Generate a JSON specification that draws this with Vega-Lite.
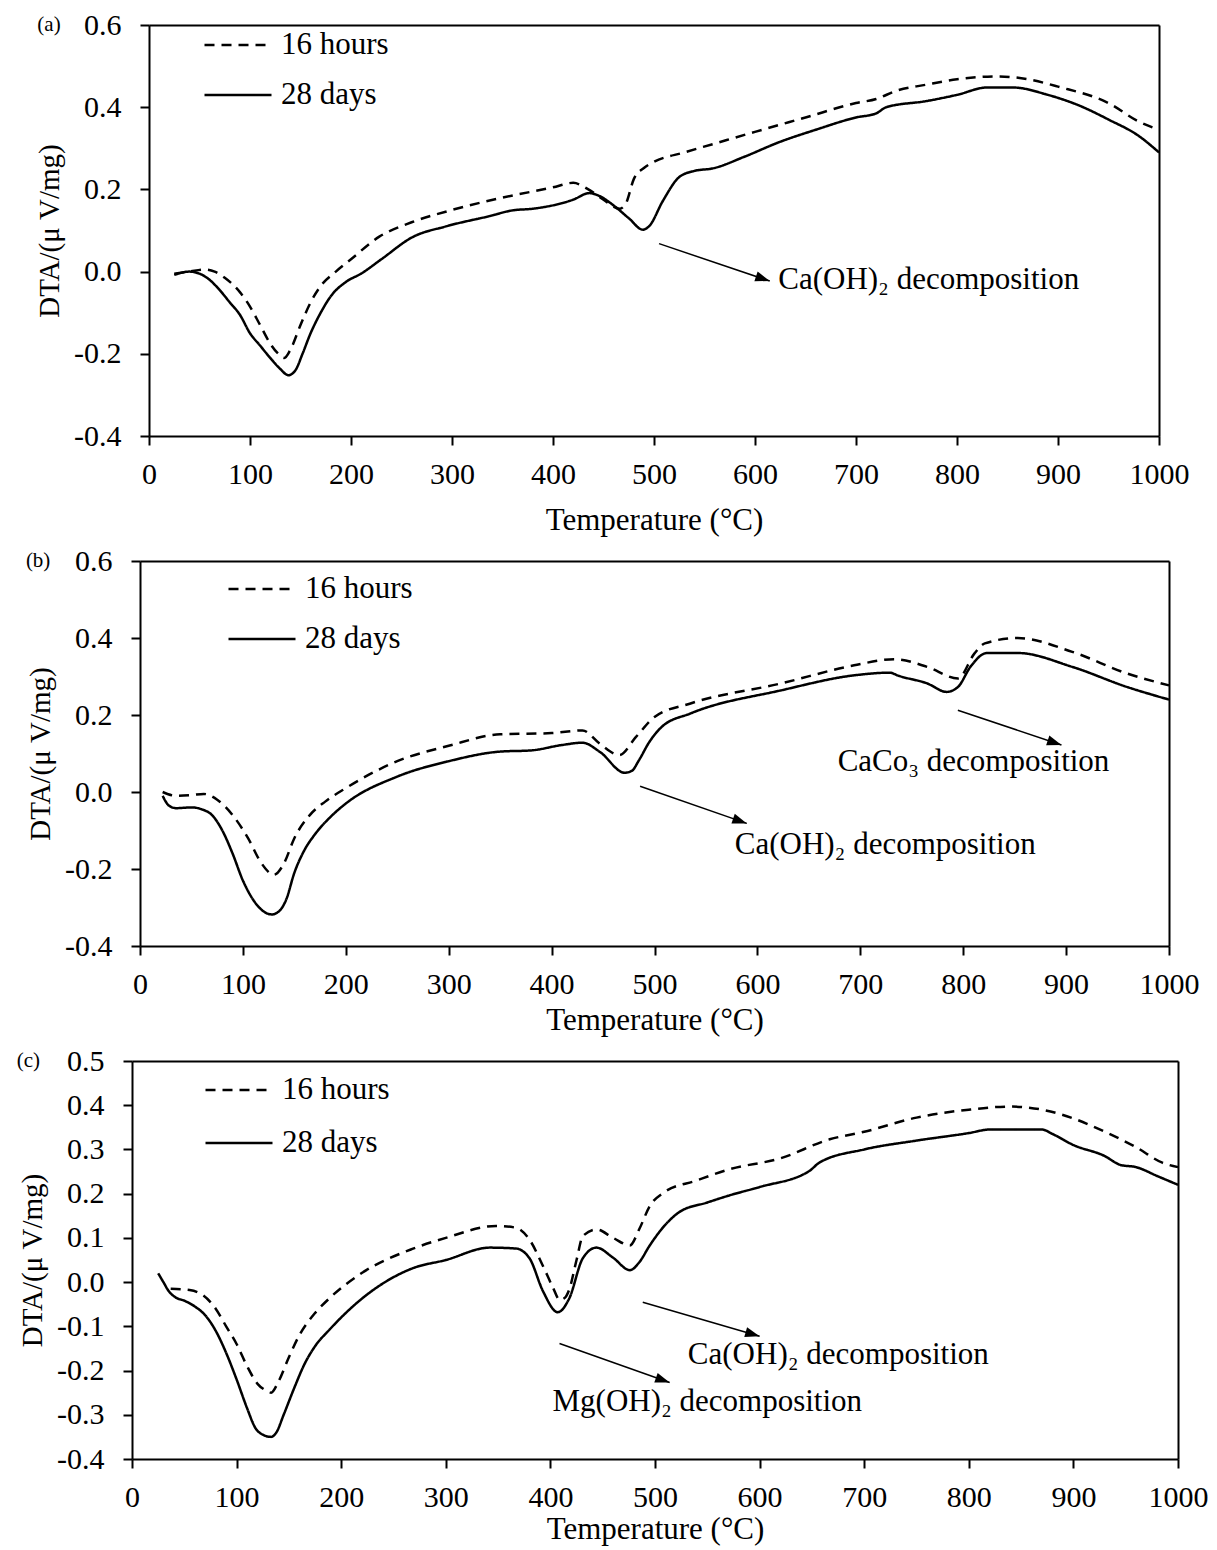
{
  "$schema": "https://vega.github.io/schema/vega-lite/v6.json",
  "background": "white",
  "padding": {"left": 16, "top": 10, "right": 10, "bottom": 5},
  "spacing": 11,
  "config": {
    "font": "Liberation Serif",
    "view": {"stroke": null},
    "axis": {"labelFont": "Liberation Serif", "titleFont": "Liberation Serif", "labelFontSize": 30, "titleFontSize": 31, "titleFontWeight": "normal", "labelColor": "black", "titleColor": "black", "domainColor": "black", "domainWidth": 2, "tickColor": "black", "tickWidth": 2, "tickSize": 9, "gridColor": "black", "gridWidth": 2, "labelFlush": false, "labelOverlap": false, "labelBound": false},
    "legend": {"title": null, "orient": "none", "symbolType": "stroke", "symbolSize": 4489, "symbolStrokeWidth": 2.5, "symbolStrokeColor": "black", "labelFont": "Liberation Serif", "labelFontSize": 31, "labelColor": "black", "labelOffset": 8, "padding": 0},
    "text": {"font": "Liberation Serif", "fontSize": 31, "color": "black"}
  },
  "datasets": {
    "a": [
      {"s":"16 hours","T":25,"v":-0.005},{"s":"16 hours","T":40,"v":0.0},{"s":"16 hours","T":55,"v":0.005},{"s":"16 hours","T":65,"v":0.0},{"s":"16 hours","T":75,"v":-0.015},{"s":"16 hours","T":90,"v":-0.05},{"s":"16 hours","T":100,"v":-0.085},{"s":"16 hours","T":110,"v":-0.13},{"s":"16 hours","T":120,"v":-0.175},{"s":"16 hours","T":128,"v":-0.2},{"s":"16 hours","T":134,"v":-0.21},{"s":"16 hours","T":140,"v":-0.19},{"s":"16 hours","T":150,"v":-0.13},{"s":"16 hours","T":160,"v":-0.075},{"s":"16 hours","T":170,"v":-0.035},{"s":"16 hours","T":185,"v":0.0},{"s":"16 hours","T":200,"v":0.03},{"s":"16 hours","T":228,"v":0.085},{"s":"16 hours","T":260,"v":0.12},{"s":"16 hours","T":300,"v":0.15},{"s":"16 hours","T":350,"v":0.18},{"s":"16 hours","T":400,"v":0.205},{"s":"16 hours","T":420,"v":0.216},{"s":"16 hours","T":435,"v":0.2},{"s":"16 hours","T":450,"v":0.175},{"s":"16 hours","T":466,"v":0.153},{"s":"16 hours","T":472,"v":0.165},{"s":"16 hours","T":480,"v":0.225},{"s":"16 hours","T":490,"v":0.252},{"s":"16 hours","T":500,"v":0.267},{"s":"16 hours","T":530,"v":0.29},{"s":"16 hours","T":558,"v":0.31},{"s":"16 hours","T":600,"v":0.34},{"s":"16 hours","T":650,"v":0.375},{"s":"16 hours","T":700,"v":0.41},{"s":"16 hours","T":720,"v":0.42},{"s":"16 hours","T":740,"v":0.44},{"s":"16 hours","T":770,"v":0.455},{"s":"16 hours","T":800,"v":0.468},{"s":"16 hours","T":840,"v":0.475},{"s":"16 hours","T":870,"v":0.468},{"s":"16 hours","T":900,"v":0.45},{"s":"16 hours","T":950,"v":0.41},{"s":"16 hours","T":980,"v":0.365},{"s":"16 hours","T":1000,"v":0.345},
      {"s":"28 days","T":25,"v":-0.008},{"s":"28 days","T":40,"v":0.0},{"s":"28 days","T":50,"v":-0.005},{"s":"28 days","T":60,"v":-0.02},{"s":"28 days","T":70,"v":-0.045},{"s":"28 days","T":80,"v":-0.075},{"s":"28 days","T":90,"v":-0.105},{"s":"28 days","T":100,"v":-0.15},{"s":"28 days","T":110,"v":-0.18},{"s":"28 days","T":120,"v":-0.21},{"s":"28 days","T":130,"v":-0.237},{"s":"28 days","T":138,"v":-0.252},{"s":"28 days","T":145,"v":-0.24},{"s":"28 days","T":152,"v":-0.2},{"s":"28 days","T":160,"v":-0.15},{"s":"28 days","T":170,"v":-0.1},{"s":"28 days","T":180,"v":-0.06},{"s":"28 days","T":195,"v":-0.025},{"s":"28 days","T":210,"v":-0.005},{"s":"28 days","T":230,"v":0.03},{"s":"28 days","T":261,"v":0.084},{"s":"28 days","T":294,"v":0.11},{"s":"28 days","T":337,"v":0.135},{"s":"28 days","T":360,"v":0.149},{"s":"28 days","T":380,"v":0.153},{"s":"28 days","T":420,"v":0.175},{"s":"28 days","T":436,"v":0.191},{"s":"28 days","T":445,"v":0.185},{"s":"28 days","T":460,"v":0.161},{"s":"28 days","T":475,"v":0.13},{"s":"28 days","T":489,"v":0.102},{"s":"28 days","T":495,"v":0.11},{"s":"28 days","T":509,"v":0.173},{"s":"28 days","T":525,"v":0.23},{"s":"28 days","T":540,"v":0.245},{"s":"28 days","T":558,"v":0.251},{"s":"28 days","T":590,"v":0.28},{"s":"28 days","T":624,"v":0.315},{"s":"28 days","T":660,"v":0.345},{"s":"28 days","T":700,"v":0.375},{"s":"28 days","T":720,"v":0.385},{"s":"28 days","T":730,"v":0.4},{"s":"28 days","T":770,"v":0.415},{"s":"28 days","T":800,"v":0.43},{"s":"28 days","T":830,"v":0.448},{"s":"28 days","T":855,"v":0.448},{"s":"28 days","T":890,"v":0.43},{"s":"28 days","T":920,"v":0.405},{"s":"28 days","T":950,"v":0.37},{"s":"28 days","T":980,"v":0.33},{"s":"28 days","T":1000,"v":0.29}
    ],
    "b": [
      {"s":"16 hours","T":22,"v":0.0},{"s":"16 hours","T":35,"v":-0.01},{"s":"16 hours","T":50,"v":-0.008},{"s":"16 hours","T":62,"v":-0.005},{"s":"16 hours","T":75,"v":-0.02},{"s":"16 hours","T":90,"v":-0.06},{"s":"16 hours","T":105,"v":-0.12},{"s":"16 hours","T":118,"v":-0.185},{"s":"16 hours","T":130,"v":-0.215},{"s":"16 hours","T":140,"v":-0.185},{"s":"16 hours","T":150,"v":-0.12},{"s":"16 hours","T":165,"v":-0.06},{"s":"16 hours","T":180,"v":-0.025},{"s":"16 hours","T":200,"v":0.01},{"s":"16 hours","T":250,"v":0.08},{"s":"16 hours","T":300,"v":0.12},{"s":"16 hours","T":350,"v":0.15},{"s":"16 hours","T":400,"v":0.153},{"s":"16 hours","T":430,"v":0.16},{"s":"16 hours","T":447,"v":0.125},{"s":"16 hours","T":466,"v":0.096},{"s":"16 hours","T":482,"v":0.143},{"s":"16 hours","T":500,"v":0.195},{"s":"16 hours","T":535,"v":0.23},{"s":"16 hours","T":623,"v":0.282},{"s":"16 hours","T":694,"v":0.329},{"s":"16 hours","T":733,"v":0.345},{"s":"16 hours","T":765,"v":0.325},{"s":"16 hours","T":795,"v":0.295},{"s":"16 hours","T":811,"v":0.36},{"s":"16 hours","T":821,"v":0.386},{"s":"16 hours","T":853,"v":0.4},{"s":"16 hours","T":906,"v":0.364},{"s":"16 hours","T":959,"v":0.308},{"s":"16 hours","T":1000,"v":0.277},
      {"s":"28 days","T":22,"v":-0.01},{"s":"28 days","T":28,"v":-0.035},{"s":"28 days","T":35,"v":-0.042},{"s":"28 days","T":50,"v":-0.04},{"s":"28 days","T":60,"v":-0.045},{"s":"28 days","T":70,"v":-0.06},{"s":"28 days","T":80,"v":-0.1},{"s":"28 days","T":90,"v":-0.16},{"s":"28 days","T":100,"v":-0.23},{"s":"28 days","T":110,"v":-0.28},{"s":"28 days","T":120,"v":-0.31},{"s":"28 days","T":128,"v":-0.318},{"s":"28 days","T":135,"v":-0.31},{"s":"28 days","T":142,"v":-0.28},{"s":"28 days","T":150,"v":-0.21},{"s":"28 days","T":160,"v":-0.15},{"s":"28 days","T":170,"v":-0.11},{"s":"28 days","T":185,"v":-0.065},{"s":"28 days","T":200,"v":-0.03},{"s":"28 days","T":250,"v":0.04},{"s":"28 days","T":300,"v":0.08},{"s":"28 days","T":350,"v":0.105},{"s":"28 days","T":380,"v":0.108},{"s":"28 days","T":410,"v":0.122},{"s":"28 days","T":430,"v":0.128},{"s":"28 days","T":447,"v":0.104},{"s":"28 days","T":471,"v":0.05},{"s":"28 days","T":478,"v":0.055},{"s":"28 days","T":485,"v":0.083},{"s":"28 days","T":495,"v":0.13},{"s":"28 days","T":507,"v":0.169},{"s":"28 days","T":535,"v":0.204},{"s":"28 days","T":623,"v":0.264},{"s":"28 days","T":694,"v":0.303},{"s":"28 days","T":729,"v":0.31},{"s":"28 days","T":736,"v":0.303},{"s":"28 days","T":765,"v":0.282},{"s":"28 days","T":784,"v":0.26},{"s":"28 days","T":795,"v":0.273},{"s":"28 days","T":807,"v":0.325},{"s":"28 days","T":823,"v":0.361},{"s":"28 days","T":853,"v":0.361},{"s":"28 days","T":906,"v":0.325},{"s":"28 days","T":959,"v":0.273},{"s":"28 days","T":1000,"v":0.24}
    ],
    "c": [
      {"s":"16 hours","T":37,"v":-0.015},{"s":"16 hours","T":55,"v":-0.018},{"s":"16 hours","T":68,"v":-0.03},{"s":"16 hours","T":80,"v":-0.06},{"s":"16 hours","T":90,"v":-0.1},{"s":"16 hours","T":100,"v":-0.14},{"s":"16 hours","T":110,"v":-0.19},{"s":"16 hours","T":120,"v":-0.23},{"s":"16 hours","T":128,"v":-0.245},{"s":"16 hours","T":133,"v":-0.25},{"s":"16 hours","T":140,"v":-0.225},{"s":"16 hours","T":150,"v":-0.17},{"s":"16 hours","T":160,"v":-0.12},{"s":"16 hours","T":175,"v":-0.07},{"s":"16 hours","T":189,"v":-0.036},{"s":"16 hours","T":220,"v":0.021},{"s":"16 hours","T":268,"v":0.075},{"s":"16 hours","T":300,"v":0.1},{"s":"16 hours","T":348,"v":0.127},{"s":"16 hours","T":367,"v":0.123},{"s":"16 hours","T":380,"v":0.096},{"s":"16 hours","T":393,"v":0.036},{"s":"16 hours","T":402,"v":-0.01},{"s":"16 hours","T":409,"v":-0.04},{"s":"16 hours","T":414,"v":-0.035},{"s":"16 hours","T":418,"v":-0.017},{"s":"16 hours","T":425,"v":0.05},{"s":"16 hours","T":431,"v":0.104},{"s":"16 hours","T":444,"v":0.119},{"s":"16 hours","T":460,"v":0.1},{"s":"16 hours","T":476,"v":0.083},{"s":"16 hours","T":485,"v":0.12},{"s":"16 hours","T":495,"v":0.172},{"s":"16 hours","T":508,"v":0.202},{"s":"16 hours","T":540,"v":0.23},{"s":"16 hours","T":571,"v":0.255},{"s":"16 hours","T":620,"v":0.28},{"s":"16 hours","T":667,"v":0.323},{"s":"16 hours","T":700,"v":0.34},{"s":"16 hours","T":750,"v":0.372},{"s":"16 hours","T":800,"v":0.39},{"s":"16 hours","T":840,"v":0.397},{"s":"16 hours","T":870,"v":0.39},{"s":"16 hours","T":900,"v":0.37},{"s":"16 hours","T":930,"v":0.34},{"s":"16 hours","T":960,"v":0.305},{"s":"16 hours","T":985,"v":0.27},{"s":"16 hours","T":1000,"v":0.26},
      {"s":"28 days","T":25,"v":0.02},{"s":"28 days","T":30,"v":0.0},{"s":"28 days","T":35,"v":-0.02},{"s":"28 days","T":42,"v":-0.035},{"s":"28 days","T":50,"v":-0.042},{"s":"28 days","T":60,"v":-0.055},{"s":"28 days","T":70,"v":-0.075},{"s":"28 days","T":80,"v":-0.11},{"s":"28 days","T":90,"v":-0.16},{"s":"28 days","T":100,"v":-0.22},{"s":"28 days","T":110,"v":-0.285},{"s":"28 days","T":118,"v":-0.33},{"s":"28 days","T":125,"v":-0.345},{"s":"28 days","T":133,"v":-0.35},{"s":"28 days","T":138,"v":-0.34},{"s":"28 days","T":145,"v":-0.3},{"s":"28 days","T":155,"v":-0.24},{"s":"28 days","T":165,"v":-0.185},{"s":"28 days","T":175,"v":-0.145},{"s":"28 days","T":189,"v":-0.107},{"s":"28 days","T":220,"v":-0.037},{"s":"28 days","T":268,"v":0.031},{"s":"28 days","T":300,"v":0.05},{"s":"28 days","T":342,"v":0.078},{"s":"28 days","T":367,"v":0.076},{"s":"28 days","T":380,"v":0.054},{"s":"28 days","T":393,"v":-0.021},{"s":"28 days","T":407,"v":-0.068},{"s":"28 days","T":418,"v":-0.037},{"s":"28 days","T":431,"v":0.054},{"s":"28 days","T":444,"v":0.078},{"s":"28 days","T":460,"v":0.055},{"s":"28 days","T":476,"v":0.027},{"s":"28 days","T":485,"v":0.045},{"s":"28 days","T":495,"v":0.083},{"s":"28 days","T":510,"v":0.13},{"s":"28 days","T":523,"v":0.158},{"s":"28 days","T":550,"v":0.18},{"s":"28 days","T":571,"v":0.196},{"s":"28 days","T":600,"v":0.215},{"s":"28 days","T":648,"v":0.252},{"s":"28 days","T":657,"v":0.27},{"s":"28 days","T":700,"v":0.3},{"s":"28 days","T":750,"v":0.32},{"s":"28 days","T":800,"v":0.337},{"s":"28 days","T":820,"v":0.345},{"s":"28 days","T":870,"v":0.345},{"s":"28 days","T":880,"v":0.335},{"s":"28 days","T":900,"v":0.31},{"s":"28 days","T":930,"v":0.285},{"s":"28 days","T":945,"v":0.265},{"s":"28 days","T":960,"v":0.26},{"s":"28 days","T":980,"v":0.24},{"s":"28 days","T":1000,"v":0.22}
    ]
  },
  "resolve": {"scale": {"strokeDash": "independent"}, "legend": {"strokeDash": "independent"}},
  "vconcat": [
    {
      "width": 1027, "height": 411,
      "layer": [
        {
          "data": {"name": "a"},
          "mark": {"type": "line", "color": "black", "strokeWidth": 2.5, "interpolate": "monotone"},
          "encoding": {
            "x": {"field": "T", "type": "quantitative", "scale": {"domain": [0, 1000], "range": [17, 1027], "nice": false, "zero": false},
                  "axis": {"values": [0,100,200,300,400,500,600,700,800,900,1000], "format": "d", "title": "Temperature (°C)", "labelPadding": 14, "titlePadding": 16, "grid": true, "gridOpacity": {"condition": {"test": "datum.value > 999", "value": 1}, "value": 0}}},
            "y": {"field": "v", "type": "quantitative", "scale": {"domain": [-0.4, 0.6], "nice": false, "zero": false},
                  "axis": {"values": [-0.4,-0.2,0,0.2,0.4,0.6], "labelExpr": "replace(format(datum.value, '.1f'), '\u2212', '-')", "title": "DTA/(μ V/mg)", "titleFontSize": 29, "offset": -17, "labelPadding": 19, "titlePadding": 9, "grid": true, "gridOpacity": {"condition": {"test": "datum.value > 0.59", "value": 1}, "value": 0}}},
            "strokeDash": {"field": "s", "type": "nominal", "scale": {"domain": ["16 hours", "28 days"], "range": [[10, 7], [1, 0]]},
                           "legend": {"legendX": 71, "legendY": -15, "rowPadding": 0}}
          }
        },
        {"data": {"values": [{}]}, "mark": {"type": "rule", "color": "black", "strokeWidth": 1.5}, "encoding": {"x": {"datum": 505}, "y": {"datum": 0.068}, "x2": {"datum": 614.6}, "y2": {"datum": -0.023}}},
        {"data": {"values": [{}]}, "mark": {"type": "point", "shape": "M0,0L-2,-0.7L-2,0.7Z", "filled": true, "color": "black", "opacity": 1, "size": 210, "angle": 18.7}, "encoding": {"x": {"datum": 614.6}, "y": {"datum": -0.023}}},
        {"data": {"values": [{}]}, "mark": {"type": "text", "align": "left", "baseline": "middle"}, "encoding": {"x": {"datum": 623}, "y": {"datum": -0.02}, "text": {"value": "Ca(OH)₂ decomposition"}}},
        {"data": {"values": [{}]}, "mark": {"type": "text", "align": "center", "baseline": "middle", "fontSize": 21}, "encoding": {"x": {"datum": -99}, "y": {"datum": 0.6}, "text": {"value": "(a)"}}}
      ]
    },
    {
      "width": 1037, "height": 385,
      "layer": [
        {
          "data": {"name": "b"},
          "mark": {"type": "line", "color": "black", "strokeWidth": 2.5, "interpolate": "monotone"},
          "encoding": {
            "x": {"field": "T", "type": "quantitative", "scale": {"domain": [0, 1000], "range": [8, 1037], "nice": false, "zero": false},
                  "axis": {"values": [0,100,200,300,400,500,600,700,800,900,1000], "format": "d", "title": "Temperature (°C)", "labelPadding": 14, "titlePadding": 6, "grid": true, "gridOpacity": {"condition": {"test": "datum.value > 999", "value": 1}, "value": 0}}},
            "y": {"field": "v", "type": "quantitative", "scale": {"domain": [-0.4, 0.6], "nice": false, "zero": false},
                  "axis": {"values": [-0.4,-0.2,0,0.2,0.4,0.6], "labelExpr": "replace(format(datum.value, '.1f'), '\u2212', '-')", "title": "DTA/(μ V/mg)", "titleFontSize": 29, "offset": -8, "labelPadding": 19, "titlePadding": 9, "grid": true, "gridOpacity": {"condition": {"test": "datum.value > 0.59", "value": 1}, "value": 0}}},
            "strokeDash": {"field": "s", "type": "nominal", "scale": {"domain": ["16 hours", "28 days"], "range": [[10, 7], [1, 0]]},
                           "legend": {"legendX": 95, "legendY": -7, "rowPadding": 0}}
          }
        },
        {"data": {"values": [{}]}, "mark": {"type": "rule", "color": "black", "strokeWidth": 1.5}, "encoding": {"x": {"datum": 486}, "y": {"datum": 0.015}, "x2": {"datum": 589.7}, "y2": {"datum": -0.0815}}},
        {"data": {"values": [{}]}, "mark": {"type": "point", "shape": "M0,0L-2,-0.7L-2,0.7Z", "filled": true, "color": "black", "opacity": 1, "size": 210, "angle": 19.2}, "encoding": {"x": {"datum": 589.7}, "y": {"datum": -0.0815}}},
        {"data": {"values": [{}]}, "mark": {"type": "text", "align": "left", "baseline": "middle"}, "encoding": {"x": {"datum": 578}, "y": {"datum": -0.138}, "text": {"value": "Ca(OH)₂ decomposition"}}},
        {"data": {"values": [{}]}, "mark": {"type": "rule", "color": "black", "strokeWidth": 1.5}, "encoding": {"x": {"datum": 794.8}, "y": {"datum": 0.2125}, "x2": {"datum": 895.5}, "y2": {"datum": 0.122}}},
        {"data": {"values": [{}]}, "mark": {"type": "point", "shape": "M0,0L-2,-0.7L-2,0.7Z", "filled": true, "color": "black", "opacity": 1, "size": 210, "angle": 18.7}, "encoding": {"x": {"datum": 895.5}, "y": {"datum": 0.122}}},
        {"data": {"values": [{}]}, "mark": {"type": "text", "align": "left", "baseline": "middle"}, "encoding": {"x": {"datum": 678}, "y": {"datum": 0.078}, "text": {"value": "CaCo₃ decomposition"}}},
        {"data": {"values": [{}]}, "mark": {"type": "text", "align": "center", "baseline": "middle", "fontSize": 21}, "encoding": {"x": {"datum": -99}, "y": {"datum": 0.6}, "text": {"value": "(b)"}}}
      ]
    },
    {
      "width": 1046, "height": 398,
      "layer": [
        {
          "data": {"name": "c"},
          "mark": {"type": "line", "color": "black", "strokeWidth": 2.5, "interpolate": "monotone"},
          "encoding": {
            "x": {"field": "T", "type": "quantitative", "scale": {"domain": [0, 1000], "range": [0, 1046], "nice": false, "zero": false},
                  "axis": {"values": [0,100,200,300,400,500,600,700,800,900,1000], "format": "d", "title": "Temperature (°C)", "labelPadding": 14, "titlePadding": 2, "grid": true, "gridOpacity": {"condition": {"test": "datum.value > 999", "value": 1}, "value": 0}}},
            "y": {"field": "v", "type": "quantitative", "scale": {"domain": [-0.4, 0.5], "nice": false, "zero": false},
                  "axis": {"values": [-0.4,-0.3,-0.2,-0.1,0,0.1,0.2,0.3,0.4,0.5], "labelExpr": "replace(format(datum.value, '.1f'), '\u2212', '-')", "title": "DTA/(μ V/mg)", "titleFontSize": 29, "labelPadding": 19, "titlePadding": 9, "grid": true, "gridOpacity": {"condition": {"test": "datum.value > 0.49", "value": 1}, "value": 0}}},
            "strokeDash": {"field": "s", "type": "nominal", "scale": {"domain": ["16 hours", "28 days"], "range": [[10, 7], [1, 0]]},
                           "legend": {"legendX": 72, "legendY": -6, "rowPadding": 3}}
          }
        },
        {"data": {"values": [{}]}, "mark": {"type": "rule", "color": "black", "strokeWidth": 1.5}, "encoding": {"x": {"datum": 488.3}, "y": {"datum": -0.0455}, "x2": {"datum": 600}, "y2": {"datum": -0.1225}}},
        {"data": {"values": [{}]}, "mark": {"type": "point", "shape": "M0,0L-2,-0.7L-2,0.7Z", "filled": true, "color": "black", "opacity": 1, "size": 210, "angle": 16.2}, "encoding": {"x": {"datum": 600}, "y": {"datum": -0.1225}}},
        {"data": {"values": [{}]}, "mark": {"type": "text", "align": "left", "baseline": "middle"}, "encoding": {"x": {"datum": 531.4}, "y": {"datum": -0.164}, "text": {"value": "Ca(OH)₂ decomposition"}}},
        {"data": {"values": [{}]}, "mark": {"type": "rule", "color": "black", "strokeWidth": 1.5}, "encoding": {"x": {"datum": 408.7}, "y": {"datum": -0.139}, "x2": {"datum": 514}, "y2": {"datum": -0.227}}},
        {"data": {"values": [{}]}, "mark": {"type": "point", "shape": "M0,0L-2,-0.7L-2,0.7Z", "filled": true, "color": "black", "opacity": 1, "size": 210, "angle": 19.5}, "encoding": {"x": {"datum": 514}, "y": {"datum": -0.227}}},
        {"data": {"values": [{}]}, "mark": {"type": "text", "align": "left", "baseline": "middle"}, "encoding": {"x": {"datum": 402}, "y": {"datum": -0.27}, "text": {"value": "Mg(OH)₂ decomposition"}}},
        {"data": {"values": [{}]}, "mark": {"type": "text", "align": "center", "baseline": "middle", "fontSize": 21}, "encoding": {"x": {"datum": -99}, "y": {"datum": 0.5}, "text": {"value": "(c)"}}}
      ]
    }
  ]
}
